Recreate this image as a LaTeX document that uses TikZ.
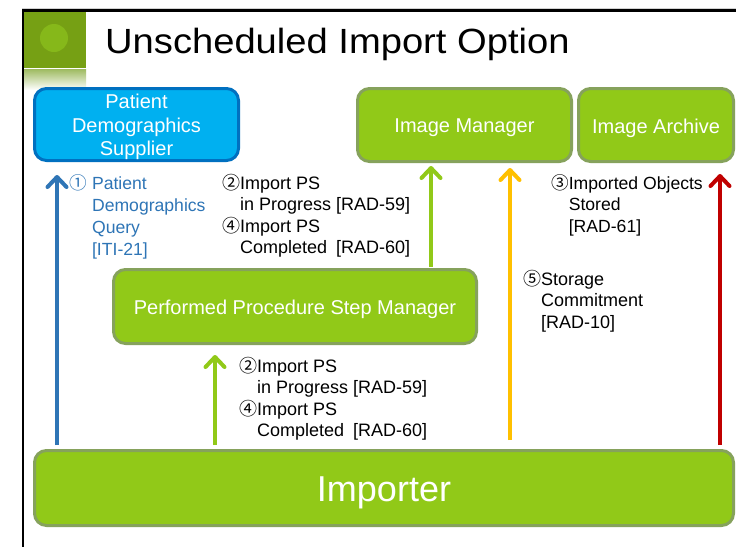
\documentclass[tikz,border=0pt]{standalone}
\usepackage{fontspec}
\setmainfont{Liberation Sans}
\newfontfamily\cjk{Noto Sans CJK JP}
\usetikzlibrary{arrows.meta}
\definecolor{gfill}{RGB}{145,201,24}
\definecolor{gline}{RGB}{134,162,92}
\definecolor{bfill}{RGB}{0,176,240}
\definecolor{bline}{RGB}{0,112,192}
\definecolor{lblblue}{RGB}{46,117,182}
\definecolor{ayellow}{RGB}{255,192,0}
\definecolor{ared}{RGB}{192,0,0}
\definecolor{sqgreen}{RGB}{118,160,20}
\definecolor{circgreen}{RGB}{134,184,26}
\definecolor{stripgreen}{RGB}{160,188,100}
\newcommand\cd[2][1em]{\makebox[#1][l]{\smash{\cjk #2}}}
\newcommand\ind{\hspace*{1em}}
\newcommand\indb{\hspace*{1.3em}}
\newcommand\dn[2]{\raisebox{-#1}[\height][\depth]{#2}}
\tikzset{
  gbox/.style={draw=gline, fill=gfill, line width=3pt, rounded corners=12pt, text=white, align=center, inner sep=0pt},
  bbox/.style={draw=bline, fill=bfill, line width=3pt, rounded corners=12pt, text=white, align=center, inner sep=0pt},
  boxfont/.style={font=\fontsize{20}{23.5}\selectfont},
  lbl/.style={anchor=base west, inner sep=0pt, font=\fontsize{18}{21.5}\selectfont},
  arr/.style={line width=4pt, -{Straight Barb[length=10pt,width=19pt,round]}},
}
\begin{document}
\begin{tikzpicture}[x=1pt,y=-1pt]
\useasboundingbox (0,0) rectangle (736,547);
\fill[white] (0,0) rectangle (736,547);
% frame
\draw[gray!35, line width=0.8pt] (22,8.2) -- (736,8.2);
\draw[black, line width=2.6pt] (22,10.3) -- (736,10.3);
\draw[black, line width=2pt] (23,9) -- (23,547);
\fill[sqgreen] (24,11.6) rectangle (86,68);
\fill[circgreen] (54,38) circle (14);
\shade[top color=stripgreen, bottom color=white] (24,69.5) rectangle (86,90);
\node[anchor=base west, inner sep=0pt, font=\fontsize{35}{40}\selectfont] (title) at (105,53) {\scalebox{1.09}[1]{Unscheduled Import Option}};
% boxes
\node[bbox, boxfont, minimum width=204pt, minimum height=72pt] (pds) at (136.5,124.5) {\dn{3pt}{\begin{tabular}{@{}c@{}}Patient\\Demographics\\Supplier\end{tabular}}};
\node[gbox, boxfont, minimum width=214pt, minimum height=73pt] (im) at (464.5,125) {\dn{3pt}{Image Manager}};
\node[gbox, boxfont, minimum width=155pt, minimum height=73pt] (ia) at (656,125) {\dn{3pt}{Image Archive}};
\node[gbox, boxfont, minimum width=363pt, minimum height=74pt] (pps) at (295,306.5) {\dn{3pt}{Performed Procedure Step Manager}};
\node[gbox, font=\fontsize{36}{40}\selectfont, minimum width=699pt, minimum height=75pt] (imp) at (384,488) {\dn{5pt}{Importer}};
% arrow columns
\coordinate (xb) at (57,0);
\coordinate (xg1) at (215,0);
\coordinate (xg2) at (431,0);
\coordinate (xy) at (510,0);
\coordinate (xr) at (720,0);
\draw[arr, lblblue, shorten <=4pt, shorten >=13pt] (imp.north -| xb) -- (pds.south -| xb);
\draw[arr, gfill, shorten <=4pt, shorten >=10pt] (imp.north -| xg1) -- (pps.south -| xg1);
\draw[arr, gfill, shorten <=1pt, shorten >=3pt] (pps.north -| xg2) -- (im.south -| xg2);
\draw[arr, ayellow, shorten <=9pt, shorten >=5pt] (imp.north -| xy) -- (im.south -| xy);
\draw[arr, ared, shorten <=4pt, shorten >=11pt] (imp.north -| xr) -- (ia.south -| xr);
% labels
\node[lbl, text=lblblue] (l1) at (69,189) {\fontsize{17.6}{22}\selectfont\begin{tabular}[t]{@{}l@{}}\cd[1.3em]{①}Patient\\ \indb Demographics\\ \indb Query\\ \indb{}[ITI-21]\end{tabular}};
\node[lbl] (l2) at (222,189) {\begin{tabular}[t]{@{}l@{}}\cd{②}Import PS\\ \ind in Progress [RAD-59]\\ \cd{④}Import PS\\ \ind Completed\hfill[RAD-60]\end{tabular}};
\node[lbl] (l3) at (551,189) {\fontsize{17.6}{21.5}\selectfont\begin{tabular}[t]{@{}l@{}}\cd{③}Imported Objects\\ \ind Stored\\ \ind{}[RAD-61]\end{tabular}};
\node[lbl] (l4) at (523,285) {\begin{tabular}[t]{@{}l@{}}\cd{⑤}Storage\\ \ind Commitment\\ \ind{}[RAD-10]\end{tabular}};
\node[lbl] (l5) at (239,372) {\begin{tabular}[t]{@{}l@{}}\cd{②}Import PS\\ \ind in Progress [RAD-59]\\ \cd{④}Import PS\\ \ind Completed\hfill[RAD-60]\end{tabular}};
\end{tikzpicture}
\end{document}
